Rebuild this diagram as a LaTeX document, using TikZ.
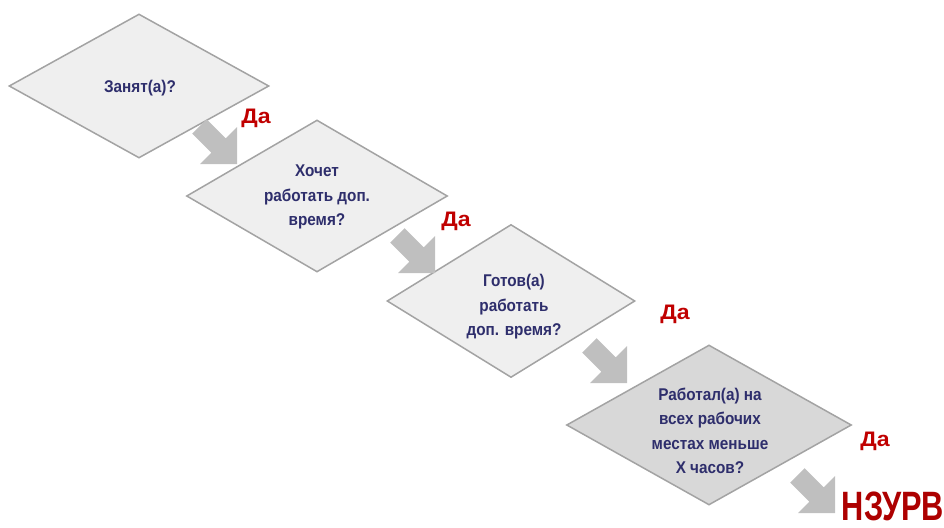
\documentclass[tikz,border=0pt]{standalone}
\usepackage{fontspec}
\setmainfont{Liberation Sans}
\newfontfamily\qfont[FakeStretch=0.9]{Liberation Sans}
\newfontfamily\widefont[FakeStretch=1.1]{Liberation Sans}
\newfontfamily\bigfont[FakeStretch=0.75]{Liberation Sans}
\usetikzlibrary{shapes.geometric}
\definecolor{diagline}{HTML}{A3A3A3}
\definecolor{diagfill}{HTML}{EFEFEF}
\definecolor{diagfilldark}{HTML}{D8D8D8}
\definecolor{navytext}{HTML}{2E2E6C}
\definecolor{yesred}{HTML}{C00000}
\definecolor{arrowgray}{HTML}{BFBFBF}
\tikzset{
  dia/.style={diamond, draw=diagline, fill=diagfill, line width=1.5pt, inner sep=0pt},
  qtxt/.style={font=\qfont\bfseries\fontsize{17}{24.5}\selectfont, text=navytext, align=center, inner sep=0pt},
  yes/.style={font=\widefont\bfseries\fontsize{21}{24}\selectfont, text=yesred, inner sep=0pt, anchor=base},
  result/.style={font=\bigfont\bfseries\fontsize{41}{44}\selectfont, text=yesred!90!black, inner sep=0pt},
  blockarrow/.style={fill=arrowgray, draw=none}
}
\newcommand\grayarrow[1]{%
  \fill[blockarrow, shift={(#1)}] (0,0) -- (0,-37) -- (-11.3,-25.7) -- (-30.4,-44.8)
    -- (-44.8,-30.4) -- (-25.7,-11.3) -- (-37,0) -- cycle;}
\begin{document}
\begin{tikzpicture}[x=1pt, y=-1pt]
\useasboundingbox (0,0) rectangle (944,527);
% diamonds
\node[dia, minimum width=260pt, minimum height=144pt] (d1) at (139,86) {};
\node[dia, minimum width=261pt, minimum height=152pt] (d2) at (317,196) {};
\node[dia, minimum width=248pt, minimum height=153pt] (d3) at (511,301) {};
\node[dia, fill=diagfilldark, minimum width=285pt, minimum height=160pt] (d4) at (709,425) {};
% texts
\node[qtxt] (t1) at (140,88) {Занят(а)?};
\node[qtxt] (t2) at (317,197) {Хочет\\работать доп.\\время?};
\node[qtxt] (t3) at (514,307) {Готов(а)\\работать\\доп. время?};
\node[qtxt] (t4) at (710,431) {Работал(а) на\\всех рабочих\\местах меньше\\Х часов?};
% arrows
\coordinate (a1) at (237,164);
\coordinate (a2) at (435,273);
\coordinate (a3) at (627,383);
\coordinate (a4) at (835,513);
\grayarrow{a1}
\grayarrow{a2}
\grayarrow{a3}
\grayarrow{a4}
% yes labels
\node[yes] (y1) at (256,123) {Да};
\node[yes] (y2) at (456,226) {Да};
\node[yes] (y3) at (675,319) {Да};
\node[yes] (y4) at (875,446) {Да};
\node[result] (r) at (893,506) {НЗУРВ};
\end{tikzpicture}
\end{document}
